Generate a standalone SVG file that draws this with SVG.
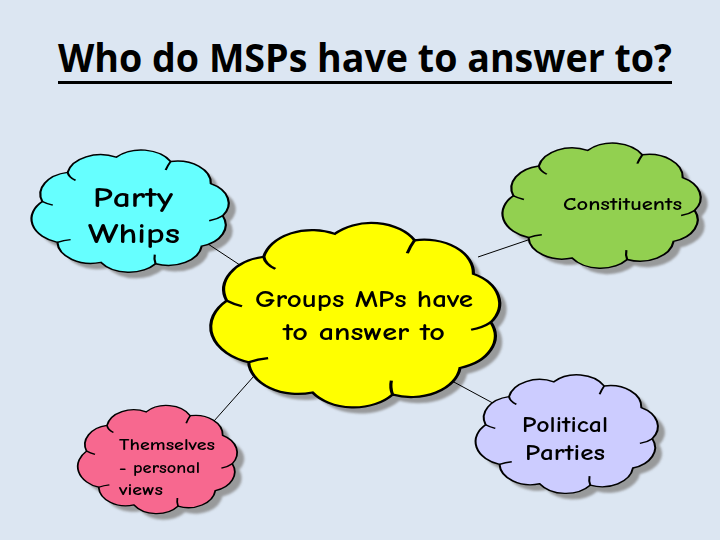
<svg xmlns="http://www.w3.org/2000/svg" xmlns:xlink="http://www.w3.org/1999/xlink" width="720" height="540" viewBox="0 0 720 540">
<style>
.bg{fill:#dce6f2}
.shadow{fill:#8c8c8c;opacity:0.85}
.edge{stroke:#000;stroke-width:1.1;vector-effect:non-scaling-stroke}
.inner{stroke:#000;stroke-width:1.1;fill:none;vector-effect:non-scaling-stroke}
.conn{stroke:#000;stroke-width:1;fill:none}
.lbl{font-family:"Comic Sans MS","Comic Neue","DejaVu Sans",sans-serif;font-weight:bold;fill:#000}
.title{font-family:"Open Sans","Liberation Sans",sans-serif;font-weight:bold;fill:#000}
</style>
<defs>
<path id="cloud" d="M4.7,42.7 A17,17 0 0 1 17.5,20.3 A17,17 0 0 1 42,8.6 A17,17 0 0 1 69.5,11.9 A17,17 0 0 1 89.8,29 A17,17 0 0 1 95.8,53.7 A17,17 0 0 1 85.2,77 A17,17 0 0 1 61.9,90.6 A17,17 0 0 1 34.3,89.5 A17,17 0 0 1 12.3,74.1 A19,19 0 0 1 4.7,42.7 Z"/>
<path id="cloudInner" d="M17.5,20.3 Q18,24 21.5,26.5 M69.5,11.9 Q68,15 67,18.5 M95.8,53.7 Q93,56.5 89,57.5 M61.9,90.6 Q61,87 61.5,83.5 M12.3,74.1 Q15.5,72.5 19,72 M4.7,42.7 Q7,44.5 10,45.5"/>
<filter id="blur" x="-10%" y="-10%" width="120%" height="120%"><feGaussianBlur stdDeviation="1.2"/></filter>
</defs>
<rect class="bg" x="0" y="0" width="720" height="540"/>

<g id="title">
<text class="title" x="58" y="72" font-size="40" textLength="614" lengthAdjust="spacingAndGlyphs">Who do MSPs have to answer to?</text>
<rect x="58" y="81" width="614" height="3" fill="#000"/>
</g>

<g id="shadows" filter="url(#blur)">
<use xlink:href="#cloud" class="shadow" transform="translate(40,152) scale(1.98,1.3)"/>
<use xlink:href="#cloud" class="shadow" transform="translate(511,145) scale(1.99,1.33)"/>
<use xlink:href="#cloud" class="shadow" transform="translate(220,223) scale(2.9,1.96)"/>
<use xlink:href="#cloud" class="shadow" transform="translate(86,408) scale(1.6,1.15)"/>
<use xlink:href="#cloud" class="shadow" transform="translate(484,377) scale(1.83,1.26)"/>
</g>

<g id="connectors">
<line class="conn" x1="205" y1="242" x2="252" y2="273"/>
<line class="conn" x1="478" y1="257" x2="528" y2="240"/>
<line class="conn" x1="254" y1="376" x2="214" y2="421"/>
<line class="conn" x1="452" y1="381" x2="502" y2="408"/>
</g>

<g id="party-whips">
<use xlink:href="#cloud" fill="#66ffff" class="edge" transform="translate(33,146) scale(1.98,1.3)"/>
<use xlink:href="#cloudInner" class="inner" transform="translate(33,146) scale(1.98,1.3)"/>
<text class="lbl" x="133" y="207" font-size="28" text-anchor="middle" textLength="80" lengthAdjust="spacingAndGlyphs">Party</text>
<text class="lbl" x="134" y="243" font-size="28" text-anchor="middle" textLength="92" lengthAdjust="spacingAndGlyphs">Whips</text>
</g>

<g id="constituents">
<use xlink:href="#cloud" fill="#92d050" class="edge" transform="translate(504,139) scale(1.99,1.33)"/>
<use xlink:href="#cloudInner" class="inner" transform="translate(504,139) scale(1.99,1.33)"/>
<text class="lbl" x="563" y="210" font-size="18" textLength="119" lengthAdjust="spacingAndGlyphs">Constituents</text>
</g>

<g id="groups">
<use xlink:href="#cloud" fill="#ffff00" class="edge" transform="translate(213,217) scale(2.9,1.96)"/>
<use xlink:href="#cloudInner" class="inner" transform="translate(213,217) scale(2.9,1.96)"/>
<text class="lbl" x="255" y="307" font-size="24" textLength="218" lengthAdjust="spacingAndGlyphs">Groups MPs have</text>
<text class="lbl" x="283" y="340" font-size="24" textLength="162" lengthAdjust="spacingAndGlyphs">to answer to</text>
</g>

<g id="themselves">
<use xlink:href="#cloud" fill="#f7688f" class="edge" transform="translate(79,402) scale(1.6,1.15)"/>
<use xlink:href="#cloudInner" class="inner" transform="translate(79,402) scale(1.6,1.15)"/>
<text class="lbl" x="119" y="450" font-size="16" textLength="96" lengthAdjust="spacingAndGlyphs">Themselves</text>
<text class="lbl" x="119" y="473" font-size="16" textLength="81" lengthAdjust="spacingAndGlyphs">- personal</text>
<text class="lbl" x="119" y="495" font-size="16" textLength="44" lengthAdjust="spacingAndGlyphs">views</text>
</g>

<g id="political-parties">
<use xlink:href="#cloud" fill="#ccccff" class="edge" transform="translate(477,371) scale(1.83,1.26)"/>
<use xlink:href="#cloudInner" class="inner" transform="translate(477,371) scale(1.83,1.26)"/>
<text class="lbl" x="565" y="432" font-size="22" text-anchor="middle" textLength="86" lengthAdjust="spacingAndGlyphs">Political</text>
<text class="lbl" x="565" y="460" font-size="22" text-anchor="middle" textLength="80" lengthAdjust="spacingAndGlyphs">Parties</text>
</g>
</svg>
